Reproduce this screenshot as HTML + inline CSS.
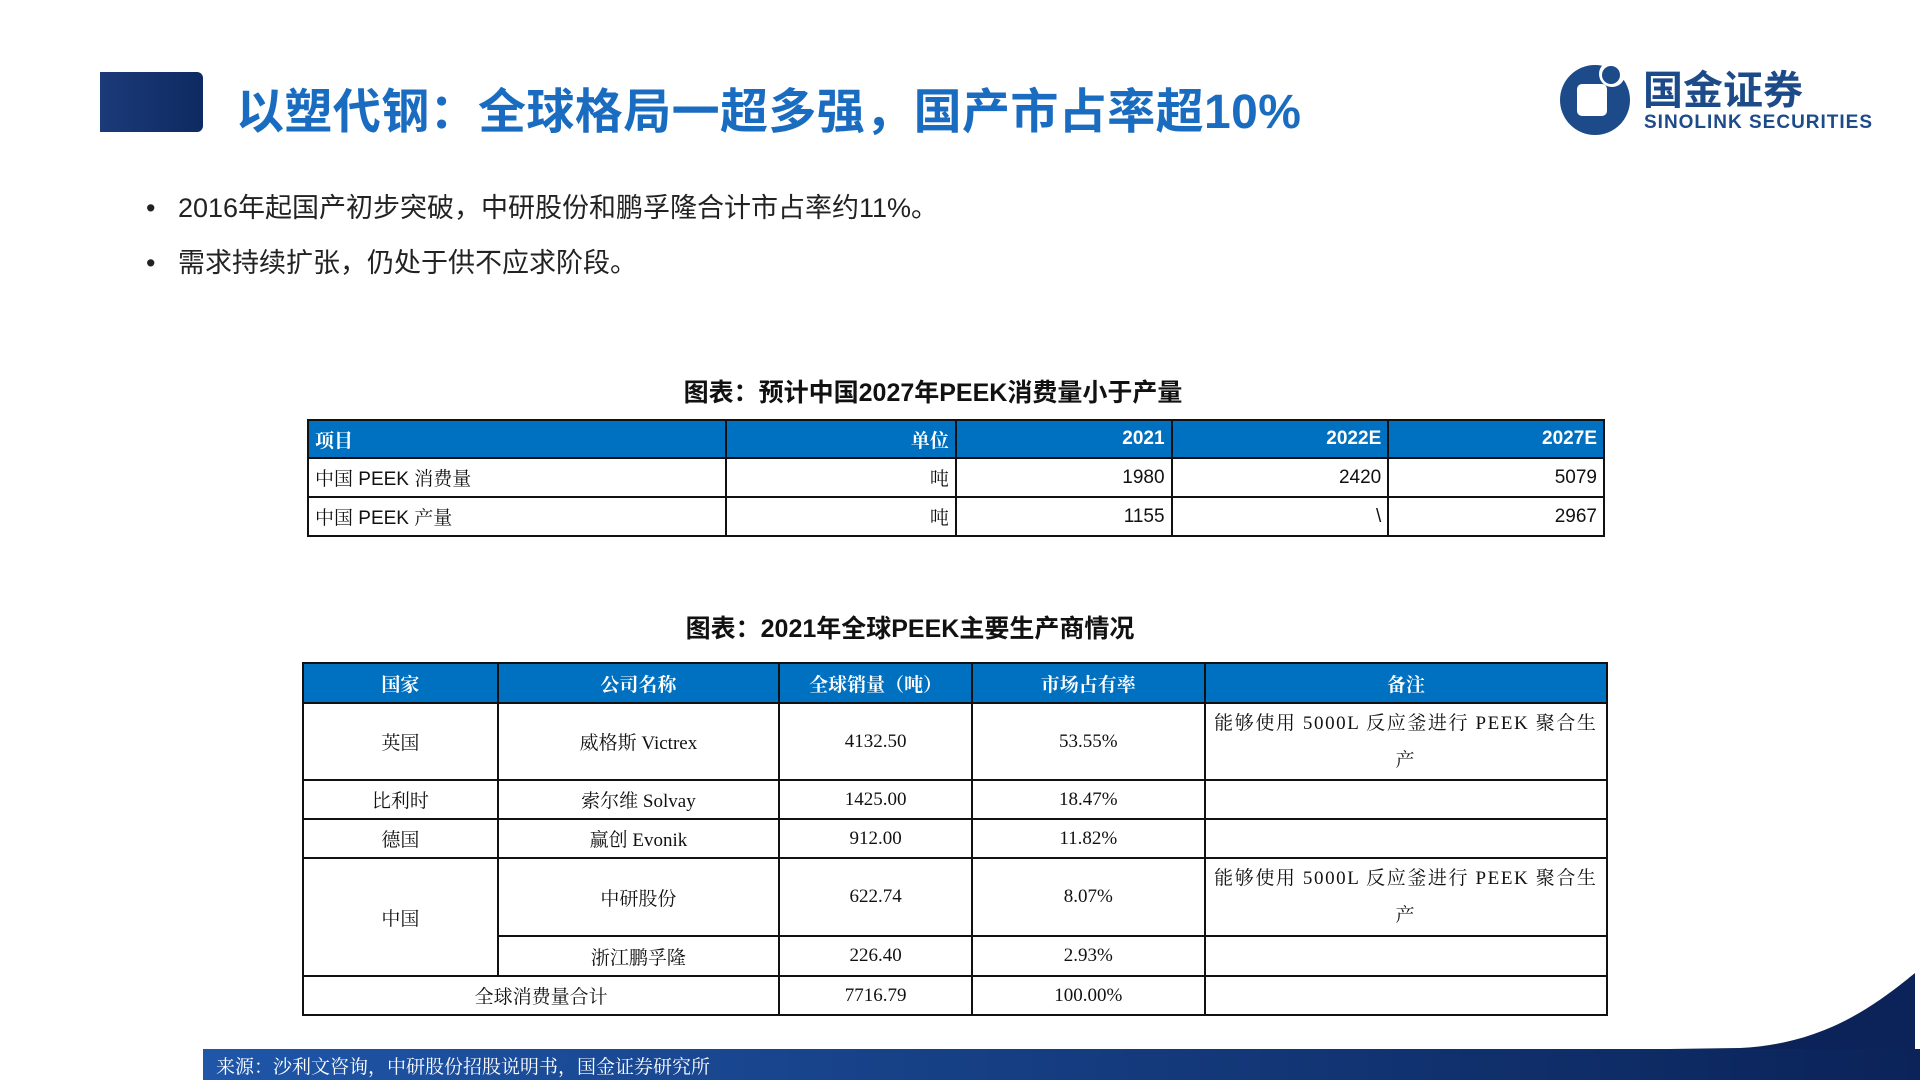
<!DOCTYPE html>
<html><head><meta charset="utf-8"><style>
body{margin:0;width:1920px;height:1080px;position:relative;background:#fff;overflow:hidden;font-family:"Liberation Sans","Noto Sans CJK SC",sans-serif}
.abs{position:absolute}
table{position:absolute;border-collapse:collapse;font-family:"Liberation Serif","Noto Serif CJK SC",serif;font-size:19px;color:#111}
td{border:2px solid #111;padding:0 6px}
tr.h td{background:#0070c0;color:#fff;font-weight:bold}
.r{text-align:right}.c{text-align:center}
.t1 td{font-family:"Liberation Sans","Noto Serif CJK SC",sans-serif}
.rem{letter-spacing:1.6px;padding:0 6px}
</style></head><body>
<div class="abs" style="left:100px;top:72px;width:103px;height:60px;background:linear-gradient(90deg,#1b3a78,#0e2a62);border-radius:0 6px 6px 0"></div>
<div class="abs" style="left:236px;top:72px;font-size:48px;font-weight:bold;color:#1a6cc0;white-space:nowrap;letter-spacing:0.4px">以塑代钢：全球格局一超多强，国产市占率超10%</div>
<svg class="abs" style="left:1555px;top:60px" width="330" height="80">
<circle cx="40" cy="40" r="35" fill="#1d4b8a"/><circle cx="57" cy="14" r="13" fill="#fff"/><circle cx="56" cy="15" r="9" fill="#1d4b8a"/>
<rect x="22" y="24" width="30" height="32" rx="5" fill="#fff"/>
<text x="88" y="44" font-size="40" font-weight="bold" fill="#1d4b8a" font-family="Noto Sans CJK SC,sans-serif">国金证券</text>
<text x="89" y="68" font-size="19" font-weight="bold" fill="#1d4b8a" font-family="Liberation Sans,sans-serif" textLength="228">SINOLINK SECURITIES</text></svg>
<div class="abs" style="left:146px;top:186px;font-size:27px;color:#222">•&nbsp;&nbsp;&nbsp;2016年起国产初步突破，中研股份和鹏孚隆合计市占率约11%。</div>
<div class="abs" style="left:146px;top:241px;font-size:27px;color:#222">•&nbsp;&nbsp;&nbsp;需求持续扩张，仍处于供不应求阶段。</div>
<div class="abs" style="left:433px;width:1000px;text-align:center;top:373px;font-size:25px;font-weight:bold;color:#111">图表：预计中国2027年PEEK消费量小于产量</div>
<table class="t1" style="left:307px;top:419px;width:1298px">
<colgroup><col style="width:419px"><col style="width:230px"><col style="width:216px"><col style="width:217px"><col style="width:216px"></colgroup>
<tr class="h" style="height:38px"><td>项目</td><td class="r">单位</td><td class="r">2021</td><td class="r">2022E</td><td class="r">2027E</td></tr>
<tr style="height:39px"><td>中国 PEEK 消费量</td><td class="r">吨</td><td class="r">1980</td><td class="r">2420</td><td class="r">5079</td></tr>
<tr style="height:39px"><td>中国 PEEK 产量</td><td class="r">吨</td><td class="r">1155</td><td class="r">\</td><td class="r">2967</td></tr>
</table>
<div class="abs" style="left:410px;width:1000px;text-align:center;top:609px;font-size:25px;font-weight:bold;color:#111">图表：2021年全球PEEK主要生产商情况</div>
<table style="left:302px;top:662px;width:1306px">
<colgroup><col style="width:195px"><col style="width:282px"><col style="width:193px"><col style="width:233px"><col style="width:403px"></colgroup>
<tr class="h c" style="height:40px"><td class="c">国家</td><td class="c">公司名称</td><td class="c">全球销量（吨）</td><td class="c">市场占有率</td><td class="c">备注</td></tr>
<tr style="height:77px"><td class="c">英国</td><td class="c">威格斯 Victrex</td><td class="c">4132.50</td><td class="c">53.55%</td><td class="c rem" style="line-height:37px">能够使用 5000L 反应釜进行 PEEK 聚合生产</td></tr>
<tr style="height:39px"><td class="c">比利时</td><td class="c">索尔维 Solvay</td><td class="c">1425.00</td><td class="c">18.47%</td><td></td></tr>
<tr style="height:39px"><td class="c">德国</td><td class="c">赢创 Evonik</td><td class="c">912.00</td><td class="c">11.82%</td><td></td></tr>
<tr style="height:78px"><td class="c" rowspan="2">中国</td><td class="c">中研股份</td><td class="c">622.74</td><td class="c">8.07%</td><td class="c rem" style="line-height:37px">能够使用 5000L 反应釜进行 PEEK 聚合生产</td></tr>
<tr style="height:40px"><td class="c">浙江鹏孚隆</td><td class="c">226.40</td><td class="c">2.93%</td><td></td></tr>
<tr style="height:39px"><td class="c" colspan="2">全球消费量合计</td><td class="c">7716.79</td><td class="c">100.00%</td><td></td></tr>
</table>
<svg class="abs" style="left:1600px;top:970px" width="320" height="110"><path d="M0,110 L0,80 L140,78 C220,74 270,40 315,3 L315,110 Z" fill="#0b2358"/></svg>
<div class="abs" style="left:203px;top:1049px;width:1717px;height:31px;background:linear-gradient(90deg,#1f56a8,#0b2358);"></div>
<div class="abs" style="left:216px;top:1052px;font-size:19px;color:#fff;font-family:'Liberation Serif','Noto Serif CJK SC',serif">来源：沙利文咨询，中研股份招股说明书，国金证券研究所</div>
</body></html>
